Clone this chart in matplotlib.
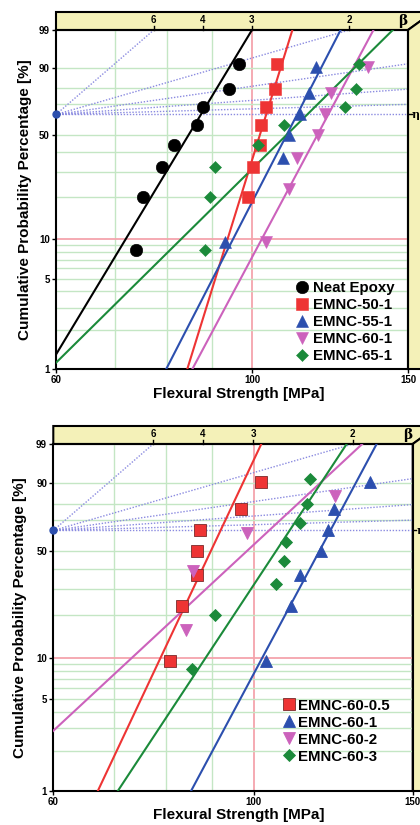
import numpy as np
import matplotlib
matplotlib.use("Agg")
import matplotlib.pyplot as plt
import matplotlib.transforms as mtrans
from matplotlib.patches import Polygon
from matplotlib.ticker import NullLocator

plt.rcParams['font.family'] = ['Liberation Sans', 'DejaVu Sans']
plt.rcParams['font.weight'] = 'bold'

# ---- top panel: flexural strength [MPa] vs cumulative probability [%]
neat_x = [73.8, 75.2, 79.1, 81.6, 86.7, 88.0, 94.1, 96.6]
neat_F = [8.3, 20.2, 32.1, 44.0, 56.0, 67.9, 79.8, 91.7]
e50_x = [99.0, 100.3, 102.0, 102.2, 103.6, 106.1, 106.7]
e50_F = [20.2, 32.1, 44.0, 56.0, 67.9, 79.8, 91.7]
e55_x = [93.2, 108.2, 110.1, 113.3, 116.0, 118.2]
e55_F = [9.5, 36.5, 50.0, 63.5, 77.0, 90.5]
e60_x = [103.6, 109.9, 112.5, 118.7, 120.8, 122.9, 135.3]
e60_F = [9.5, 23.0, 36.5, 50.0, 63.5, 77.0, 90.5]
e65_x = [88.4, 89.6, 90.8, 101.6, 108.7, 127.3, 131.1, 132.1]
e65_F = [8.3, 20.2, 32.1, 44.0, 56.0, 67.9, 79.8, 91.7]
top_labels = ['Neat Epoxy', 'EMNC-50-1', 'EMNC-55-1', 'EMNC-60-1', 'EMNC-65-1']
top_beta = [11.5, 22.4, 13.5, 13.0, 6.86]
top_eta = [87.5, 103.7, 112.4, 121.9, 115.4]

# ---- bottom panel
b05_x = [80.8, 83.2, 86.5, 86.5, 87.2, 96.8, 102.0]
b05_F = [9.5, 23.0, 36.5, 50.0, 63.5, 77.0, 90.5]
b1_x = [103.3, 109.9, 112.6, 118.8, 120.8, 122.8, 134.5]
b1_F = [9.5, 23.0, 36.5, 50.0, 63.5, 77.0, 90.5]
b2_x = [84.1, 85.7, 98.2, 123.2]
b2_F = [15.9, 38.6, 61.4, 84.1]
b3_x = [85.4, 90.6, 105.8, 108.0, 108.6, 112.6, 114.7, 115.3]
b3_F = [8.3, 20.2, 32.1, 44.0, 56.0, 67.9, 79.8, 91.7]
bot_labels = ['EMNC-60-0.5', 'EMNC-60-1', 'EMNC-60-2', 'EMNC-60-3']
bot_beta = [14.7, 12.95, 6.43, 10.5]
bot_eta = [91.9, 121.6, 104.0, 109.6]

beta_ticks = [6, 4, 3, 2]
beta_guides = [6, 2, 1, 0.5, 0.2]
y_ticks = [1, 5, 10, 50, 90, 99]
green_h = [2, 3, 4, 5, 6, 7, 8, 9, 20, 30, 40, 50, 70, 80, 90]
green_v = [70, 80, 90]

BLACK = '#000000'
RED = '#ee3434'
BLUE = '#2c4fae'
MAG = '#cc62bc'
GREEN = '#1b8a3a'
GRID = '#c4e6c4'
PINK = '#f4a4ac'
GUIDE = '#8a8ae0'
BAND = '#f4f1b8'


def fwd(p):
    p = np.asarray(p, dtype=float) / 100.0
    with np.errstate(all='ignore'):
        return np.log(-np.log(1.0 - p))


def inv(w):
    w = np.asarray(w, dtype=float)
    with np.errstate(all='ignore'):
        return 100.0 * (1.0 - np.exp(-np.exp(w)))


def weibull_line(ax, beta, eta, color):
    p = np.array([0.2, 99.9])
    x = eta * (-np.log(1 - p / 100.0)) ** (1.0 / beta)
    ax.plot(x, p, color=color, lw=1.5, zorder=3)


def setup(ax, dx, dy):
    ax.set_xscale('log')
    ax.set_yscale('function', functions=(fwd, inv))
    ax.set_xlim(60, 150)
    ax.set_ylim(1, 99)
    ax.xaxis.set_minor_locator(NullLocator())
    ax.yaxis.set_minor_locator(NullLocator())
    ax.set_xticks([60, 100, 150])
    ax.set_xticklabels(['60', '100', '150'])
    ax.set_yticks(y_ticks)
    ax.set_yticklabels([str(v) for v in y_ticks])
    ax.tick_params(labelsize=7, length=3, width=1, pad=1.5)
    for s in ax.spines.values():
        s.set_linewidth(1.5)

    for v in green_v:
        ax.axvline(v, color=GRID, lw=1, zorder=1)
    ax.axvline(100, color=PINK, lw=1.3, zorder=1)
    for v in green_h:
        ax.axhline(v, color=GRID, lw=1, zorder=1)
    ax.axhline(10, color=PINK, lw=1.3, zorder=1)

    # beta guide lines from the pole (60 MPa, 63.2 %)
    p0 = 100 * (1 - np.exp(-1))
    for b in beta_guides:
        x1 = 60 * np.exp(1.6 / b)
        ax.plot([60, x1], [p0, inv(1.6)], color=GUIDE, lw=1, ls=(0, (1, 1.2)), zorder=2)
    ax.axhline(p0, color=GUIDE, lw=1, ls=(0, (1, 1.2)), zorder=2)
    ax.plot([60], [p0], 'o', color=BLUE, ms=5, clip_on=False, zorder=6)

    # yellow frame (beta band on top, eta band on right)
    top = Polygon([(0, 1), (1, 1), (1 + dx, 1 + dy), (0, 1 + dy)], closed=True,
                  transform=ax.transAxes, clip_on=False, fc=BAND, ec='black', lw=1.5, zorder=0)
    right = Polygon([(1, 1), (1 + dx, 1 + dy), (1 + dx, 0), (1, 0)], closed=True,
                    transform=ax.transAxes, clip_on=False, fc=BAND, ec='black', lw=1.5, zorder=0)
    ax.add_patch(top)
    ax.add_patch(right)

    w_top = fwd(99)
    bt = mtrans.blended_transform_factory(ax.transData, ax.transAxes)
    for b in beta_ticks:
        xb = 60 * np.exp(w_top / b)
        ax.plot([xb, xb], [1, 1 + dy * 0.25], color='black', lw=1, transform=bt, clip_on=False)
        ax.text(xb, 1 + dy * 0.55, str(b), transform=bt, ha='center', va='center',
                fontsize=7, fontweight='bold')
    ax.text(0.985, 1 + dy * 0.5, 'β', transform=ax.transAxes, ha='center', va='center',
            fontsize=10, fontweight='bold', family=['DejaVu Serif'])
    rt = mtrans.blended_transform_factory(ax.transAxes, ax.transData)
    ax.plot([1, 1 + 0.01], [p0, p0], color='black', lw=1, transform=rt, clip_on=False)
    ax.text(1 + 0.022, p0, 'η', transform=rt, ha='center', va='center', fontsize=8,
            fontweight='bold', family=['DejaVu Serif'])


fig = plt.figure(figsize=(4.2, 8.25), dpi=100)

# top panel
ax1 = fig.add_axes([56 / 420, 1 - 369 / 825, 352 / 420, 339 / 825])
setup(ax1, 25 / 352, 18 / 339)
series_top = [(neat_x, neat_F, BLACK, 'o', 9), (e50_x, e50_F, RED, 's', 8.5),
              (e55_x, e55_F, BLUE, '^', 9), (e60_x, e60_F, MAG, 'v', 9),
              (e65_x, e65_F, GREEN, 'D', 6.5)]
for (x, F, c, m, ms), lab, b, e in zip(series_top, top_labels, top_beta, top_eta):
    weibull_line(ax1, b, e, c)
    ax1.plot(x, F, m, color=c, ms=ms, mew=0.4, mec=c, label=lab, zorder=4)
ax1.legend(loc='lower left', bbox_to_anchor=(0.67, 0.008), frameon=False, fontsize=10.8,
           handlelength=0.9, handletextpad=0.3, labelspacing=0.2, borderpad=0.2,
           borderaxespad=0)
ax1.set_xlabel('Flexural Strength [MPa]', fontsize=11, fontweight='bold')
ax1.xaxis.set_label_coords(0.52, -0.052)
ax1.set_ylabel('Cumulative Probability Percentage [%]', fontsize=11, fontweight='bold')
ax1.yaxis.set_label_coords(-0.068, 0.5)

# bottom panel
ax2 = fig.add_axes([53.3 / 420, 1 - 791 / 825, 359.4 / 420, 347 / 825])
setup(ax2, 25 / 359.4, 18 / 347)
series_bot = [(b05_x, b05_F, RED, 's', 8.5), (b1_x, b1_F, BLUE, '^', 9),
              (b2_x, b2_F, MAG, 'v', 9), (b3_x, b3_F, GREEN, 'D', 6.5)]
for (x, F, c, m, ms), lab, b, e in zip(series_bot, bot_labels, bot_beta, bot_eta):
    weibull_line(ax2, b, e, c)
    ax2.plot(x, F, m, color=c, ms=ms, mew=0.6, mec='#7a2a2a' if m == 's' else c,
             label=lab, zorder=4)
ax2.legend(loc='lower left', bbox_to_anchor=(0.63, 0.07), frameon=False, fontsize=10.8,
           handlelength=0.9, handletextpad=0.15, labelspacing=0.2, borderpad=0.2,
           borderaxespad=0)
ax2.set_xlabel('Flexural Strength [MPa]', fontsize=11, fontweight='bold')
ax2.xaxis.set_label_coords(0.515, -0.05)
ax2.set_ylabel('Cumulative Probability Percentage [%]', fontsize=11, fontweight='bold')
ax2.yaxis.set_label_coords(-0.073, 0.5)

fig.savefig('out.png', dpi=100)
